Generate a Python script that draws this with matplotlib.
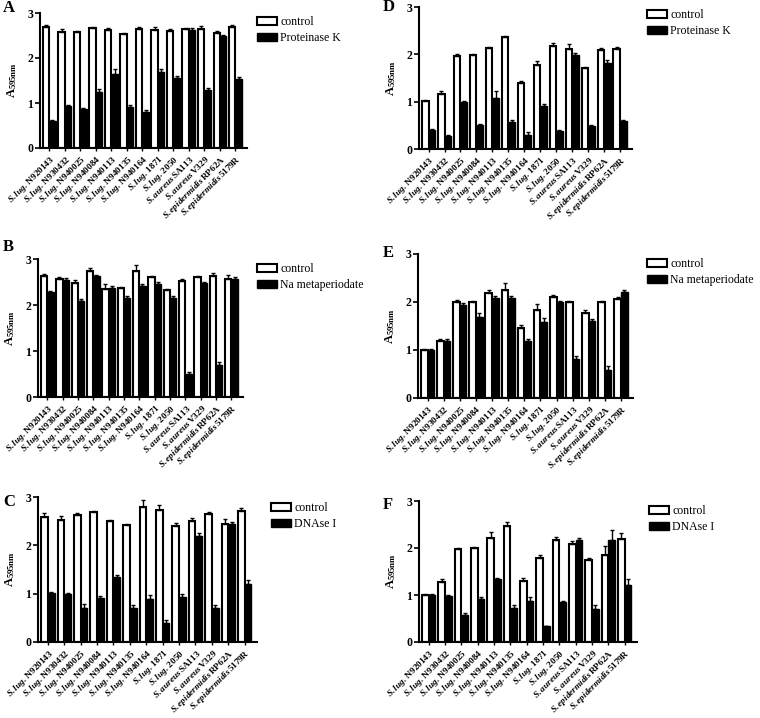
import matplotlib
matplotlib.use('Agg')
import matplotlib.pyplot as plt
import numpy as np

plt.rcParams['font.family'] = ['Liberation Serif', 'DejaVu Serif']
plt.rcParams['mathtext.fontset'] = 'custom'
plt.rcParams['mathtext.rm'] = 'Liberation Serif'
plt.rcParams['mathtext.it'] = 'Liberation Serif:italic'
plt.rcParams['mathtext.bf'] = 'Liberation Serif:bold'
plt.rcParams['mathtext.bfit'] = 'Liberation Serif:italic:bold'

# ---------------- data ----------------
species = ['S.lug.'] * 9 + ['S.aureus'] * 2 + ['S.epidermidis'] * 2
strains = ['N920143', 'N930432', 'N940025', 'N940084', 'N940113', 'N940135',
           'N940164', '1871', '2050', 'SA113', 'V329', 'RP62A', '5179R']

# Panel A (Proteinase K)
A_control = [2.69, 2.58, 2.58, 2.67, 2.63, 2.53, 2.65, 2.63, 2.61, 2.64, 2.64, 2.56, 2.69]
A_control_err = [0.05, 0.07, 0.03, 0.03, 0.04, 0.03, 0.03, 0.05, 0.04, 0.03, 0.06, 0.03, 0.05]
A_treat = [0.60, 0.93, 0.87, 1.24, 1.64, 0.91, 0.81, 1.70, 1.56, 2.63, 1.30, 2.49, 1.54]
A_treat_err = [0.02, 0.03, 0.03, 0.07, 0.12, 0.05, 0.03, 0.05, 0.03, 0.03, 0.03, 0.03, 0.04]

# Panel D (Proteinase K)
D_control = [1.01, 1.17, 1.97, 1.98, 2.13, 2.36, 1.40, 1.78, 2.18, 2.11, 1.72, 2.09, 2.12]
D_control_err = [0.02, 0.06, 0.03, 0.02, 0.03, 0.02, 0.03, 0.08, 0.06, 0.10, 0.02, 0.04, 0.03]
D_treat = [0.40, 0.28, 1.00, 0.50, 1.08, 0.57, 0.30, 0.90, 0.38, 1.98, 0.49, 1.81, 0.60]
D_treat_err = [0.03, 0.02, 0.02, 0.03, 0.14, 0.05, 0.06, 0.05, 0.02, 0.04, 0.02, 0.06, 0.01]

# Panel B (Na metaperiodate)
B_control = [2.62, 2.56, 2.48, 2.75, 2.35, 2.37, 2.75, 2.60, 2.32, 2.53, 2.61, 2.62, 2.57]
B_control_err = [0.05, 0.04, 0.07, 0.06, 0.10, 0.02, 0.12, 0.04, 0.03, 0.04, 0.03, 0.07, 0.08]
B_treat = [2.28, 2.54, 2.08, 2.62, 2.38, 2.16, 2.42, 2.45, 2.16, 0.49, 2.48, 0.70, 2.57]
B_treat_err = [0.02, 0.04, 0.05, 0.04, 0.03, 0.04, 0.03, 0.05, 0.04, 0.05, 0.03, 0.07, 0.03]

# Panel E (Na metaperiodate)
E_control = [1.00, 1.18, 2.00, 2.00, 2.19, 2.25, 1.45, 1.83, 2.10, 2.00, 1.77, 2.00, 2.07]
E_control_err = [0.02, 0.05, 0.04, 0.02, 0.05, 0.15, 0.07, 0.13, 0.04, 0.02, 0.07, 0.02, 0.04]
E_treat = [1.00, 1.18, 1.94, 1.68, 2.08, 2.08, 1.18, 1.59, 2.01, 0.82, 1.60, 0.58, 2.20]
E_treat_err = [0.02, 0.05, 0.04, 0.10, 0.04, 0.04, 0.05, 0.07, 0.02, 0.05, 0.04, 0.08, 0.04]

# Panel C (DNAse I)
C_control = [2.59, 2.53, 2.62, 2.69, 2.50, 2.43, 2.79, 2.74, 2.41, 2.51, 2.64, 2.45, 2.72]
C_control_err = [0.07, 0.08, 0.05, 0.03, 0.03, 0.02, 0.15, 0.10, 0.06, 0.06, 0.06, 0.10, 0.05]
C_treat = [1.02, 1.00, 0.70, 0.92, 1.34, 0.70, 0.90, 0.40, 0.93, 2.20, 0.70, 2.44, 1.20]
C_treat_err = [0.02, 0.01, 0.08, 0.04, 0.04, 0.06, 0.07, 0.05, 0.06, 0.05, 0.06, 0.04, 0.08]

# Panel F (DNAse I)
F_control = [1.00, 1.27, 1.98, 2.01, 2.22, 2.47, 1.30, 1.79, 2.18, 2.09, 1.74, 1.86, 2.20]
F_control_err = [0.03, 0.06, 0.02, 0.02, 0.12, 0.08, 0.06, 0.07, 0.06, 0.05, 0.05, 0.18, 0.12]
F_treat = [1.00, 0.97, 0.58, 0.92, 1.33, 0.72, 0.88, 0.33, 0.86, 2.18, 0.70, 2.18, 1.22]
F_treat_err = [0.02, 0.03, 0.03, 0.04, 0.03, 0.06, 0.08, 0.02, 0.02, 0.03, 0.08, 0.20, 0.12]

panels = [
    ('A', 'Proteinase K', A_control, A_control_err, A_treat, A_treat_err),
    ('D', 'Proteinase K', D_control, D_control_err, D_treat, D_treat_err),
    ('B', 'Na metaperiodate', B_control, B_control_err, B_treat, B_treat_err),
    ('E', 'Na metaperiodate', E_control, E_control_err, E_treat, E_treat_err),
    ('C', 'DNAse I', C_control, C_control_err, C_treat, C_treat_err),
    ('F', 'DNAse I', F_control, F_control_err, F_treat, F_treat_err),
]

# ---------------- layout (pixel boxes) ----------------
W, H = 760, 718
axes_px = {
    'A': (40, 13, 247, 148),
    'D': (419, 7, 632, 149),
    'B': (38, 259, 243, 397),
    'E': (418, 254, 633, 398),
    'C': (38, 497, 257, 642),
    'F': (419, 501, 637, 642),
}
legend_px = {
    'A': (257, 22),
    'D': (647, 15),
    'B': (257, 269),
    'E': (647, 264),
    'C': (271, 508),
    'F': (649, 511),
}
letter_px = {
    'A': (3, 8), 'D': (383, 7), 'B': (3, 247), 'E': (383, 253), 'C': (3, 502), 'F': (383, 505),
}

fig = plt.figure(figsize=(W / 100, H / 100), dpi=100)

labels = [r'$\mathbfit{%s}\,\mathbf{%s}$' % (sp, st) for sp, st in zip(species, strains)]
x = np.arange(len(strains))
bw = 0.41

for name, treat_name, ctrl, ctrl_err, trt, trt_err in panels:
    l, t, r, b = axes_px[name]
    ax = fig.add_axes([l / W, 1 - b / H, (r - l) / W, (b - t) / H])
    zeros = np.zeros(len(ctrl))
    ax.bar(x - bw / 2, ctrl, bw, color='white', edgecolor='black', linewidth=1.5,
           yerr=[zeros, ctrl_err], capsize=1.5,
           error_kw=dict(elinewidth=1.0, capthick=1.0, ecolor='black'), label='control')
    ax.bar(x + bw / 2, trt, bw, color='black', edgecolor='black', linewidth=1.0,
           yerr=[zeros, trt_err], capsize=1.5,
           error_kw=dict(elinewidth=1.0, capthick=1.0, ecolor='black'), label=treat_name)
    ax.set_xlim(-0.6, 12.75)
    ax.set_ylim(0, 3)
    ax.set_yticks([0, 1, 2, 3])
    ax.set_yticklabels(['0', '1', '2', '3'], fontsize=8.5, fontweight='bold')
    ax.set_xticks(x)
    ax.set_xticklabels(labels, rotation=45, ha='right', rotation_mode='anchor', fontsize=6.7)
    ax.tick_params(axis='y', length=3.5, width=1.2, pad=1.5)
    ax.tick_params(axis='x', length=2.5, width=1.0, pad=1.5)
    for s in ['top', 'right']:
        ax.spines[s].set_visible(False)
    for s in ['left', 'bottom']:
        ax.spines[s].set_linewidth(1.5)
    # y label
    cy = (t + b) / 2
    fig.text((l - 28) / W, 1 - cy / H, r'$\mathbf{A}_{\mathbf{595nm}}$', rotation=90,
             ha='center', va='center', fontsize=9)
    # legend
    lx, ly = legend_px[name]
    ax.legend(loc='upper left', bbox_to_anchor=(lx / W, 1 - (ly - 6) / H),
              bbox_transform=fig.transFigure, frameon=False, fontsize=8.5,
              borderpad=0, borderaxespad=0, handlelength=1.7, handleheight=0.6,
              handletextpad=0.25, labelspacing=0.35)
    # panel letter
    px, py = letter_px[name]
    fig.text(px / W, 1 - py / H, name, fontsize=12, fontweight='bold', ha='left', va='center')

fig.savefig('out.png', dpi=100)
